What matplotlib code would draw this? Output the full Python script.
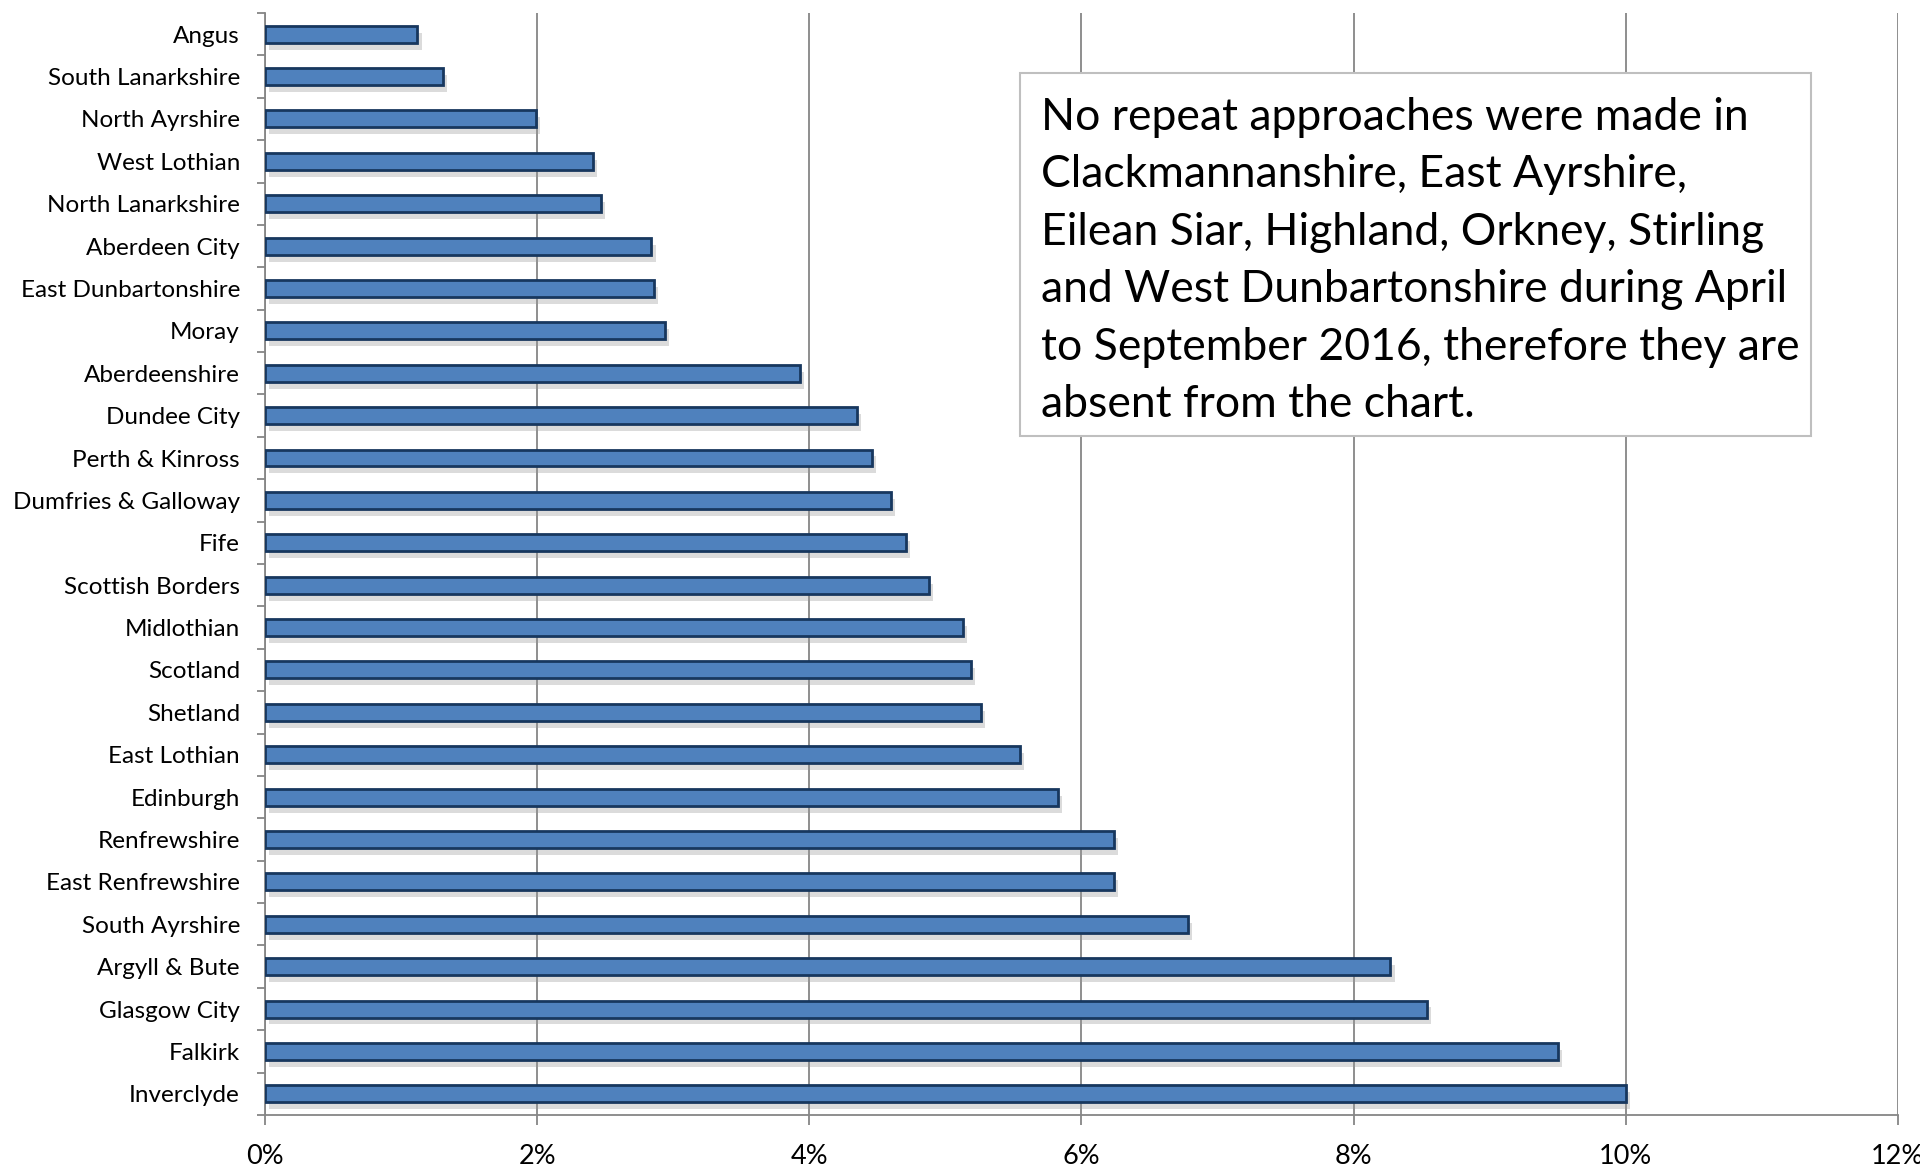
import matplotlib.pyplot as plt
import matplotlib.patheffects as pe
from matplotlib.patches import Rectangle
from matplotlib.ticker import FuncFormatter, MultipleLocator
import numpy as np

plt.rcParams['font.family'] = ['Lato', 'DejaVu Sans']

# Data (percent of applications that were repeat approaches)
areas = ['Angus', 'South Lanarkshire', 'North Ayrshire', 'West Lothian', 'North Lanarkshire',
         'Aberdeen City', 'East Dunbartonshire', 'Moray', 'Aberdeenshire', 'Dundee City',
         'Perth & Kinross', 'Dumfries & Galloway', 'Fife', 'Scottish Borders', 'Midlothian',
         'Scotland', 'Shetland', 'East Lothian', 'Edinburgh', 'Renfrewshire',
         'East Renfrewshire', 'South Ayrshire', 'Argyll & Bute', 'Glasgow City', 'Falkirk',
         'Inverclyde']
values = [1.12, 1.31, 1.99, 2.41, 2.47, 2.84, 2.86, 2.94, 3.93, 4.35,
          4.46, 4.60, 4.71, 4.88, 5.13, 5.19, 5.26, 5.55, 5.83, 6.24,
          6.24, 6.78, 8.27, 8.54, 9.50, 10.0]

note = ('No repeat approaches were made in\n'
        'Clackmannanshire, East Ayrshire,\n'
        'Eilean Siar, Highland, Orkney, Stirling\n'
        'and West Dunbartonshire during April\n'
        'to September 2016, therefore they are\n'
        'absent from the chart.')

fig = plt.figure(figsize=(19.2, 11.69), dpi=100)
ax = fig.add_axes([0.138, 0.0462, 0.8505, 0.9427])

y = np.arange(len(areas))
bars = ax.barh(y, values, height=0.4, color='#4F81BD', edgecolor='#17375E', linewidth=2, zorder=3)
for b in bars:
    b.set_path_effects([pe.SimplePatchShadow(offset=(3, -5), shadow_rgbFace='#999999', alpha=0.35),
                        pe.Normal()])

ax.set_xlim(0, 12)
ax.set_ylim(len(areas) - 0.5, -0.5)
ax.xaxis.set_major_locator(MultipleLocator(2))
ax.xaxis.set_major_formatter(FuncFormatter(lambda v, p: f'{v:.0f}%'))
ax.grid(axis='x', color='#868686', linewidth=1.3, zorder=0)

ax.set_yticks(y)
ax.set_yticklabels(areas)
ax.set_yticks(np.arange(len(areas) + 1) - 0.5, minor=True)
ax.tick_params(axis='y', which='major', length=0, pad=18, labelsize=17.5)
ax.tick_params(axis='y', which='minor', length=6, color='#868686', width=1.3)
ax.tick_params(axis='x', length=7, color='#868686', width=1.3, labelsize=19.5, pad=14)

for s in ['top', 'right']:
    ax.spines[s].set_visible(False)
for s in ['left', 'bottom']:
    ax.spines[s].set_color('#868686')
    ax.spines[s].set_linewidth(1.3)

# note box
ax.add_patch(Rectangle((0.4623, 0.616), 0.4847, 0.3296, transform=ax.transAxes,
                       facecolor='white', edgecolor='#BFBFBF', linewidth=1.5, zorder=4))
ax.text(0.4752, 0.924, note, transform=ax.transAxes, fontsize=32, va='top', ha='left',
        linespacing=1.5, zorder=5)

fig.savefig('out.png', dpi=100)
